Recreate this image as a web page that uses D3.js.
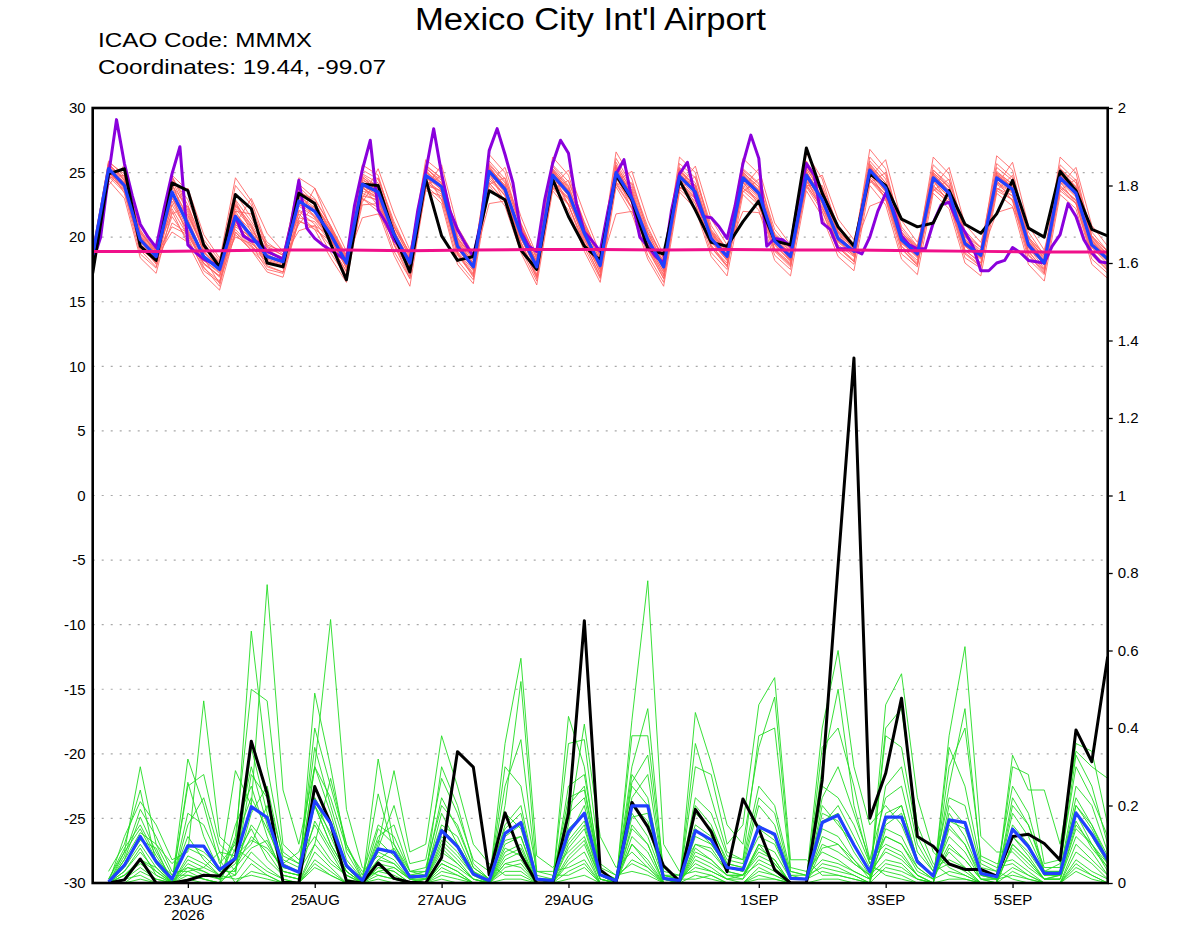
<!DOCTYPE html>
<html><head><meta charset="utf-8">
<script src="https://cdn.jsdelivr.net/npm/d3@7"></script>
<style>
body{margin:0;background:#fff}
svg{display:block}
text{font-family:"Liberation Sans",Arial,Helvetica,sans-serif;fill:#000}
</style>
</head><body>
<svg id="chart" width="1200" height="927"></svg>
<script>
// ---------------- DATA ----------------
const titleText = "Mexico City Int'l Airport";
const infoLines = ["ICAO Code: MMMX", "Coordinates: 19.44, -99.07"];
const startTime = "2026-08-21T12:00:00Z";   // first 6-hourly step
const endTime   = "2026-09-06T12:00:00Z";

// temperature, 6-hourly (65 steps), left axis
const tempControl = [17.2,
 24.9,25.3,19.3,18.2, 24.2,23.6,19.4,17.7, 23.3,22.2,18.0,17.7, 23.4,22.6,19.5,16.7,
 24.1,24.0,20.2,17.3, 24.5,20.1,18.2,18.5, 23.6,22.9,19.0,17.5, 24.5,21.6,19.3,18.2,
 24.8,22.9,19.1,18.7, 24.4,22.1,19.6,19.3, 21.2,22.8,19.7,19.4, 26.9,23.4,20.8,19.3,
 24.9,24.0,21.4,20.8, 21.1,23.6,21.0,20.3, 21.8,24.4,20.7,20.0, 25.1,23.6,20.6,20.1];
const tempMean = [18.6,
 25.3,24.0,19.8,18.5, 23.5,21.0,18.5,17.5, 21.6,20.1,18.5,18.1, 22.8,22.0,20.2,18.0,
 24.1,23.5,20.2,18.0, 24.8,23.9,19.3,17.7, 25.1,23.7,20.2,17.7, 24.8,23.4,20.3,17.8,
 25.0,23.0,19.8,17.7, 24.7,23.5,19.9,18.5, 24.6,23.4,19.7,18.5, 24.8,22.9,19.9,18.9,
 25.2,23.8,19.8,18.7, 24.6,23.4,19.5,18.6, 24.6,23.7,19.4,18.0, 24.6,23.4,19.4,18.3];
// high-resolution model, 3-hourly (129 steps)
const tempHiRes = [18.1,20.0,24.8,29.1,25.7,23.2,21.0,20.0,19.2,22.2,24.9,27.0,19.4,18.8,18.3,18.0,
 17.8,19.8,21.6,20.1,19.7,19.6,18.9,18.6,18.3,21.0,24.4,20.7,19.9,19.4,19.0,18.6,
 18.2,22.4,25.2,27.5,22.1,21.1,19.8,19.0,18.1,22.1,25.1,28.4,24.9,22.1,20.6,19.5,
 18.5,21.3,26.7,28.4,26.4,24.2,20.4,19.3,18.9,22.9,25.7,27.5,26.5,22.6,20.4,19.7,
 18.9,22.1,24.9,26.0,22.9,20.0,19.3,18.5,18.0,22.1,24.9,25.8,23.1,21.6,21.5,20.8,
 19.9,22.4,25.7,27.9,26.1,19.3,19.9,19.8,19.3,22.9,25.7,24.8,21.1,20.6,19.1,19.1,
 19.0,18.7,20.0,22.0,23.4,22.1,20.1,19.4,19.1,19.1,21.1,22.5,22.7,21.3,20.4,19.3,
 17.4,17.4,18.0,18.2,19.2,18.8,18.2,18.1,18.0,19.3,20.2,22.6,21.6,19.8,18.8,18.1,18.0];
// reference line, daily (17 values, every 4th step)
const tempReference = [18.9,18.9,18.95,19.0,19.0,18.95,19.0,19.05,19.05,19.0,19.05,19.0,19.0,18.95,18.9,18.85,18.85];
// ensemble members, 6-hourly
const tempMembers = [
 [18.9, 25.1,24.2,19.6,18.2, 24.0,22.3,18.9,17.6, 22.4,20.8,18.7,18.0, 23.4,22.5,20.8,18.2, 24.6,23.9,20.6,17.8, 25.3,24.4,19.6,17.5, 25.6,24.2,20.9,17.9, 25.3,23.9,20.7,17.6, 25.5,23.6,20.1,17.5, 25.1,24.0,20.3,18.6, 25.0,23.9,19.9,18.2, 25.3,23.4,20.3,18.8, 25.6,24.2,20.1,18.5, 25.0,23.8,19.7,18.4, 25.0,24.1,19.6,17.8, 25.0,23.9,19.8,18.1],
 [18.6, 25.5,24.4,20.1,18.7, 22.8,20.4,18.0,17.0, 21.0,19.6,18.2,17.8, 22.1,21.4,19.8,17.6, 23.6,23.0,19.7,17.4, 24.3,23.3,18.8,17.2, 24.6,23.2,19.6,17.1, 24.2,22.9,19.8,17.3, 24.6,22.6,19.3,17.1, 24.2,23.0,19.3,18.0, 24.0,22.8,19.1,18.0, 24.3,22.4,19.4,18.5, 24.7,23.3,19.3,18.2, 24.0,22.9,19.0,18.0, 24.1,23.2,18.9,17.5, 24.0,22.8,18.9,17.7],
 [19.0, 25.6,24.6,20.3,18.9, 24.5,22.9,19.8,18.2, 24.6,22.8,19.3,18.6, 24.1,23.0,20.9,18.6, 25.2,24.5,21.0,18.7, 25.5,24.6,20.0,18.3, 25.9,24.5,21.0,18.4, 25.6,24.3,21.1,18.5, 26.1,24.0,20.6,18.4, 25.7,24.6,20.6,19.1, 25.3,24.2,20.2,19.0, 25.9,23.8,20.6,19.4, 26.2,24.8,20.6,19.2, 25.6,24.4,20.3,19.2, 25.7,24.6,20.0,18.6, 25.6,24.4,20.1,18.9],
 [18.4, 24.9,23.6,19.2,18.0, 21.6,19.8,17.6,16.6, 20.2,19.0,17.8,17.3, 21.2,20.8,19.3,17.4, 22.5,22.6,19.5,17.0, 23.6,23.2,18.6,17.0, 24.2,22.8,19.4,16.9, 23.8,22.5,19.5,17.0, 24.1,22.2,19.1,16.8, 23.7,22.6,19.2,17.8, 23.6,22.5,18.9,17.7, 23.9,22.0,19.2,18.1, 24.4,23.0,19.1,17.8, 23.7,22.7,18.7,17.7, 23.6,22.9,18.6,17.2, 23.6,22.6,18.6,17.4],
 [18.7, 25.2,23.8,20.6,18.6, 23.8,21.7,19.3,17.8, 21.8,20.5,19.0,18.3, 23.0,22.2,20.4,18.3, 24.0,23.2,20.4,18.3, 24.9,23.6,19.5,17.9, 25.0,23.4,20.3,17.8, 24.6,23.2,20.6,18.0, 25.3,23.1,20.0,17.9, 24.8,23.3,20.0,18.6, 24.4,23.1,19.8,18.7, 24.7,22.6,20.0,19.0, 25.1,23.6,19.9,18.8, 24.4,23.1,19.7,18.7, 24.3,23.5,19.6,18.2, 24.5,23.2,19.6,18.4],
 [18.5, 25.0,24.1,19.4,18.3, 23.1,20.6,18.2,17.3, 22.6,20.9,18.3,17.9, 22.6,21.7,20.0,17.8, 24.3,23.4,20.0,17.7, 24.6,23.7,19.1,17.6, 25.2,23.7,20.0,17.5, 24.9,23.6,20.1,17.7, 24.8,22.8,19.6,17.6, 24.6,23.4,19.7,18.3, 24.7,23.6,19.5,18.4, 24.9,23.0,19.7,18.7, 25.0,23.6,19.6,18.6, 24.6,23.4,19.4,18.4, 24.7,23.6,19.2,17.9, 24.4,23.3,19.3,18.2],
 [18.8, 25.4,24.0,20.0,18.5, 24.7,22.1,18.8,17.6, 20.0,19.5,18.6,18.1, 22.9,22.0,20.6,18.1, 24.0,23.3,20.5,18.2, 24.9,24.0,19.4,17.8, 25.2,23.9,20.2,17.6, 25.0,23.5,20.4,17.9, 25.1,23.3,19.9,17.8, 24.9,23.6,20.1,18.6, 24.6,23.3,19.7,18.5, 24.6,23.0,20.0,19.0, 25.2,23.9,20.0,18.7, 24.7,23.5,19.6,18.6, 24.7,23.8,19.5,18.1, 24.7,23.5,19.5,18.4],
 [18.9, 25.7,24.4,19.9,18.4, 20.4,19.6,18.0,16.9, 21.3,20.3,18.9,18.4, 20.5,20.9,20.1,17.9, 23.8,23.1,20.2,18.0, 24.6,23.9,19.3,17.9, 25.0,23.5,20.0,17.7, 24.8,23.3,20.2,17.8, 25.0,23.0,19.8,17.6, 24.5,23.2,19.8,18.5, 24.3,23.2,19.6,18.3, 24.6,22.8,19.8,18.8, 25.2,23.8,19.7,18.6, 24.6,23.2,19.4,18.5, 24.5,23.5,19.3,18.0, 24.6,23.3,19.3,18.3],
 [18.6, 25.3,23.9,19.1,18.1, 23.6,21.2,18.4,16.4, 22.0,20.1,18.1,17.6, 23.2,22.3,19.5,17.3, 24.5,23.6,19.4,17.5, 25.4,24.2,18.7,17.1, 25.5,23.8,19.6,17.0, 25.2,23.6,19.9,17.2, 25.4,23.3,19.2,17.0, 25.2,23.7,19.4,17.8, 25.1,23.6,19.0,17.9, 25.1,22.9,19.3,18.2, 25.5,24.0,19.3,18.0, 24.9,23.6,19.0,18.0, 25.0,23.9,18.9,17.4, 25.0,23.6,18.9,17.6],
 [18.3, 24.8,23.7,20.3,19.0, 23.3,21.6,19.1,18.1, 22.9,21.2,19.4,18.9, 21.8,20.6,19.7,18.7, 23.0,22.3,20.8,18.8, 24.0,22.9,19.9,18.5, 24.2,22.7,20.8,18.5, 23.9,22.6,20.9,18.6, 24.2,22.3,20.4,18.4, 23.9,22.8,20.5,19.1, 23.8,22.7,20.3,19.1, 24.1,22.2,20.4,19.4, 24.5,23.1,20.3,19.3, 23.8,22.6,20.1,19.2, 23.8,22.9,20.0,18.7, 23.8,22.6,20.0,18.9],
 [19.1, 25.6,24.5,19.8,18.8, 24.2,20.9,18.4,17.9, 20.6,19.3,18.4,18.0, 23.6,22.7,20.3,17.9, 24.8,23.9,19.9,17.9, 25.4,24.1,19.1,17.6, 25.4,24.0,19.9,17.5, 25.3,23.8,20.1,17.5, 25.6,23.6,19.5,17.3, 25.1,24.0,19.7,18.2, 25.0,23.9,19.4,18.1, 25.3,23.5,19.7,18.6, 25.7,24.2,19.6,18.4, 25.0,23.9,19.3,18.3, 25.1,24.1,19.2,17.6, 25.0,23.9,19.2,17.9],
 [18.4, 25.1,24.2,19.4,17.9, 22.5,20.5,17.9,17.0, 21.6,19.7,18.0,17.7, 22.4,21.6,19.9,17.6, 23.4,22.8,19.9,17.6, 24.2,23.5,18.9,17.4, 24.8,23.2,19.9,17.4, 24.4,23.0,20.0,17.5, 24.6,22.9,19.4,17.3, 24.3,23.1,19.6,18.2, 24.2,23.0,19.4,18.2, 24.4,22.6,19.6,18.6, 24.9,23.5,19.5,18.5, 24.3,23.1,19.3,18.4, 24.2,23.4,19.2,17.9, 24.3,23.1,19.2,18.1],
 [18.8, 25.9,24.7,20.5,19.0, 23.0,21.3,18.6,17.5, 20.8,20.0,18.8,18.3, 22.5,22.1,20.4,18.1, 24.2,23.7,20.3,18.1, 25.0,24.2,19.6,17.9, 25.3,24.0,20.4,17.9, 25.0,23.6,20.5,17.9, 25.2,23.2,20.1,17.9, 24.9,23.6,20.2,18.7, 24.8,23.5,19.9,18.6, 25.0,23.1,20.1,19.0, 25.4,23.9,20.0,18.9, 24.7,23.5,19.8,18.8, 24.8,23.9,19.7,18.2, 24.8,23.5,19.7,18.5],
 [18.5, 24.7,23.5,19.3,18.4, 24.4,21.9,18.9,17.7, 23.4,21.5,19.2,18.6, 23.5,22.9,20.9,18.4, 24.9,24.2,20.8,18.5, 25.6,24.5,19.9,18.2, 25.7,24.3,20.7,18.1, 25.5,24.0,20.8,18.2, 25.8,23.8,20.3,18.1, 25.4,24.2,20.4,19.0, 25.2,24.1,20.1,18.9, 25.5,23.7,20.4,19.3, 25.9,24.5,20.4,19.1, 25.2,24.1,20.0,19.0, 25.4,24.4,19.9,18.4, 25.3,24.2,19.9,18.7],
 [18.7, 25.4,24.1,20.2,18.8, 22.2,20.1,18.2,17.2, 20.4,19.2,18.1,17.8, 22.9,21.9,19.8,17.7, 23.8,23.0,20.1,17.8, 24.4,23.5,19.2,17.5, 25.0,23.6,20.1,17.6, 24.7,23.4,20.2,17.6, 24.9,22.9,19.7,17.5, 24.6,23.4,19.8,18.4, 24.5,23.3,19.6,18.3, 24.8,22.8,19.9,18.8, 25.2,23.8,19.8,18.6, 24.5,23.3,19.5,18.5, 24.6,23.7,19.4,18.0, 24.5,23.4,19.4,18.2],
 [18.6, 25.2,24.3,19.7,18.2, 24.7,22.5,19.2,17.9, 22.2,20.7,18.6,18.2, 23.9,22.7,20.5,18.0, 24.4,23.8,20.3,18.1, 25.1,23.8,19.3,17.7, 25.3,23.9,20.3,17.7, 25.1,23.7,20.3,17.8, 25.3,23.4,19.9,17.7, 24.9,23.8,20.0,18.6, 24.8,23.7,19.8,18.6, 25.0,23.2,20.0,19.0, 25.4,24.0,20.0,18.8, 24.8,23.6,19.7,18.7, 24.8,23.9,19.6,18.1, 24.8,23.6,19.6,18.4],
 [18.9, 25.0,24.0,19.0,17.7, 21.1,20.3,17.7,16.2, 21.0,19.9,17.7,17.3, 21.5,21.2,19.6,17.0, 23.2,22.9,19.4,16.8, 24.0,23.6,18.8,16.9, 24.4,23.3,19.5,16.8, 24.0,23.1,19.6,16.9, 24.3,22.7,19.0,16.8, 23.9,23.0,19.2,17.7, 23.8,22.9,19.0,17.8, 24.0,22.3,19.2,18.1, 24.5,23.3,19.1,17.9, 23.9,22.9,18.8,17.8, 23.8,23.2,18.7,17.3, 23.9,22.9,18.7,17.5],
 [18.5, 25.5,24.2,20.0,18.6, 24.1,21.4,18.6,17.4, 22.8,20.4,18.5,18.1, 23.3,22.0,20.2,18.1, 24.7,23.5,20.1,18.0, 25.2,23.9,19.4,17.8, 25.4,23.8,20.3,17.8, 25.2,23.5,20.4,17.9, 25.4,23.2,19.9,17.8, 25.0,23.6,20.0,18.6, 24.9,23.5,19.7,18.6, 25.1,23.0,20.0,19.0, 25.5,23.9,19.9,18.8, 24.9,23.5,19.6,18.7, 24.9,23.8,19.5,18.1, 24.9,23.5,19.5,18.4],
 [18.7, 24.6,24.8,20.4,18.9, 21.8,22.4,19.5,18.0, 22.0,21.8,19.6,18.7, 21.0,22.5,20.6,18.5, 22.7,24.6,21.2,18.6, 23.9,24.8,20.2,18.4, 24.1,24.6,21.1,18.3, 23.7,24.4,21.2,18.4, 24.1,24.2,20.8,18.3, 23.7,24.7,20.9,19.0, 23.5,24.5,20.6,19.1, 24.0,24.0,20.9,19.5, 24.2,25.0,20.8,19.3, 23.6,24.5,20.5,19.2, 23.6,24.8,20.4,18.6, 23.6,24.5,20.4,18.9],
 [18.3, 25.3,23.4,18.7,17.6, 23.2,20.0,17.4,16.5, 21.2,19.4,17.5,17.2, 22.0,21.0,18.8,16.9, 24.0,22.4,18.9,16.8, 24.8,22.9,18.2,16.7, 25.0,22.7,19.1,16.6, 24.6,22.5,19.2,16.8, 24.8,22.2,18.6,16.5, 24.5,22.6,18.8,17.5, 24.3,22.5,18.6,17.5, 24.6,22.0,18.9,17.9, 25.0,22.9,18.7,17.7, 24.4,22.6,18.4,17.6, 24.4,22.8,18.3,17.1, 24.3,22.6,18.3,17.2],
 [18.8, 24.0,25.6,21.0,19.2, 22.5,23.8,20.2,18.4, 21.0,23.0,20.3,18.9, 21.5,23.8,21.5,18.9, 23.0,25.3,21.8,19.0, 23.8,25.6,20.8,18.7, 24.2,25.4,21.6,18.6, 23.9,25.2,21.8,18.7, 24.3,25.1,21.3,18.6, 24.0,25.5,21.4,19.4, 23.8,25.3,21.1,19.4, 24.2,24.8,21.4,19.8, 24.6,26.0,21.3,19.6, 23.9,25.4,21.0,19.6, 24.0,25.8,20.9,19.0, 24.0,25.4,20.9,19.3],
 [18.2, 24.4,23.0,18.4,17.2, 22.0,19.5,17.1,15.9, 20.4,19.0,17.3,16.9, 21.3,20.6,18.4,16.5, 23.0,22.0,18.6,16.2, 23.8,22.6,17.9,16.4, 24.0,22.4,18.8,16.3, 23.6,22.1,18.9,16.5, 23.9,21.8,18.3,16.2, 23.5,22.2,18.5,17.0, 23.3,22.1,18.2,17.0, 23.6,21.6,18.5,17.4, 24.0,22.5,18.3,17.1, 23.4,22.2,18.0,17.0, 23.4,22.4,17.9,16.6, 23.3,22.2,17.9,16.8],
 [18.9, 25.8,24.9,20.1,18.5, 24.8,23.6,19.6,17.8, 24.0,22.5,19.0,18.2, 24.6,23.8,20.7,18.3, 25.6,24.8,20.8,18.4, 26.0,25.0,19.8,18.0, 26.4,25.0,20.8,18.0, 26.2,24.8,20.9,18.2, 26.6,24.5,20.3,18.0, 26.2,25.0,20.4,18.8, 26.1,24.9,20.1,18.7, 26.5,24.5,20.5,19.1, 26.8,25.3,20.4,18.9, 26.2,24.9,20.1,18.8, 26.3,25.2,19.9,18.3, 26.2,25.0,20.0,18.6],
 [18.6, 25.0,23.8,19.9,18.6, 20.8,20.2,18.6,17.6, 22.5,21.0,19.0,18.4, 23.2,21.5,19.9,18.2, 21.5,21.8,19.8,18.4, 25.1,24.0,19.7,18.0, 22.6,22.8,20.1,18.2, 25.0,22.5,19.5,17.7, 21.8,22.0,19.6,18.2, 25.3,23.9,20.3,18.9, 22.0,21.9,19.8,18.8, 25.5,23.5,20.3,19.1, 22.4,22.9,20.2,19.1, 25.2,23.9,19.9,18.6, 21.9,22.3,19.7,18.5, 25.3,23.9,19.8,18.6]
];

// precipitation, 6-hourly accumulations from step 1 to step 64, right axis
const precipControl = [0,.008,.062,0,0,.007,.02,.018,.064,.366,.231,.002,0,.249,.154,.005,
 0,.052,.012,.002,0,.066,.339,.299,.021,.181,.072,0,0,.178,.677,.034,
 .002,.208,.145,.044,.005,.19,.132,.029,.217,.139,.034,0,0,.266,.82,1.355,
 .167,.283,.477,.12,.095,.049,.035,.035,.018,.12,.126,.102,.059,.395,.313,.584];
const precipMean = [.003,.046,.12,.055,.01,.096,.095,.034,.064,.197,.169,.045,.028,.212,.154,.045,
 .006,.088,.079,.016,.018,.135,.094,.023,.006,.128,.156,.01,.006,.132,.18,.021,
 .006,.199,.199,.012,.006,.135,.111,.04,.034,.145,.126,.012,.01,.156,.175,.098,
 .029,.17,.17,.055,.018,.163,.156,.025,.016,.139,.094,.025,.025,.181,.126,.059];
// ensemble members, one row per time step (20 members each)
const precipMembersByStep = [
[0,0,.01,0,0,0,0,.03,0,0,0,0,0,.01,0,0,0,0,0,0],
[.05,.02,.08,.12,.03,0,.06,.1,.01,.04,.07,.02,0,.09,.05,.03,.01,.08,.06,.02],
[.12,.05,.3,.21,.08,.03,.17,.24,.02,.1,.19,.06,.01,.15,.11,.09,.04,.14,.13,.06],
[.06,.02,.1,.15,.03,.01,.08,.05,0,.04,.12,.03,0,.07,.09,.02,.01,.06,.1,.04],
[0,0,.02,.06,0,0,.01,0,0,0,.03,0,0,.01,0,0,0,.02,.05,0],
[.05,.32,.02,.08,.26,.01,.12,.04,.25,.06,.03,.15,0,.1,.07,.02,.18,.04,.09,.03],
[.03,.2,.01,.47,.12,0,.06,.02,.28,.04,.01,.22,0,.08,.05,.01,.15,.03,.07,.04],
[.01,.05,0,.12,.03,0,.02,.01,.1,.02,0,.08,0,.04,.02,0,.06,.01,.03,.08],
[.02,.1,.04,.08,.29,0,.05,.12,.06,.01,.15,.03,.09,.02,.07,.04,0,.11,.03,.07],
[.08,.3,.12,.65,.2,.05,.15,.5,.1,.02,.25,.18,.06,.35,.14,.09,.03,.22,.28,.11],
[.04,.15,.08,.3,.77,.02,.1,.47,.2,.01,.12,.25,.03,.18,.06,.11,.02,.14,.22,.09],
[.01,.03,.02,.08,.24,0,.03,.1,.05,0,.02,.06,.01,.04,.02,.03,0,.05,.07,.04],
[0,.02,.01,.05,.1,0,.02,.06,.03,0,.01,.04,0,.03,.01,.02,0,.08,.05,.03],
[.1,.2,.49,.15,.3,.05,.3,.12,.4,.08,.22,.35,.04,.22,.16,.3,.06,.2,.2,.1],
[.05,.1,.3,.08,.68,.02,.18,.06,.25,.04,.12,.2,.02,.15,.09,.22,.03,.13,.1,.27],
[.02,.03,.08,.01,.19,0,.04,.02,.1,0,.03,.06,0,.05,.02,.09,0,.04,.03,.1],
[0,0,.01,0,.04,0,0,0,.02,0,0,.01,0,0,0,.03,0,0,0,.01],
[.04,.12,.06,.32,.02,.1,.08,.03,.15,.01,.23,.05,.09,.02,.11,.07,.14,.04,.06,.03],
[.03,.15,.05,.1,.01,.29,.06,.02,.12,0,.08,.04,.2,.01,.07,.05,.1,.03,.09,.04],
[0,.03,.01,.02,0,.08,.01,0,.03,0,.02,.01,.05,0,.02,.01,.03,0,.02,.01],
[.01,.02,0,.03,0,.1,.02,.01,.04,0,.01,0,.06,0,.02,.01,.03,0,.02,.01],
[.08,.3,.05,.15,.02,.38,.12,.06,.2,.01,.1,.04,.27,.03,.18,.09,.22,.05,.14,.11],
[.05,.2,.03,.12,.01,.25,.08,.04,.15,0,.06,.02,.18,.02,.1,.05,.14,.03,.1,.07],
[.01,.05,0,.03,0,.1,.02,.01,.04,0,.01,0,.06,0,.03,.01,.04,0,.03,.02],
[0,.01,0,0,0,.05,0,0,.01,0,0,0,.03,0,0,0,.01,0,.01,0],
[.05,.15,.1,.06,.36,.02,.2,.08,.12,.01,.25,.04,.14,.03,.3,.07,.18,.05,.11,.09],
[.06,.2,.12,.08,.58,.02,.52,.1,.15,.01,.37,.05,.18,.03,.25,.09,.14,.04,.12,.07],
[0,.01,0,0,.07,0,.03,0,.01,0,.02,0,.01,0,.03,0,.01,0,.01,0],
[0,0,0,0,.04,0,.02,0,0,0,.01,0,0,0,.03,0,.01,0,.01,0],
[.1,.05,.2,.43,.08,.15,.02,.36,.12,.06,.18,.01,.25,.09,.04,.14,.11,.03,.22,.07],
[.15,.08,.25,.3,.12,.41,.04,.37,.2,.1,.22,.02,.28,.14,.06,.18,.16,.05,.24,.11],
[.01,0,.03,.02,.01,.12,0,.05,.02,0,.03,0,.04,.01,0,.02,.02,0,.03,.01],
[0,0,.01,0,0,.04,0,.02,0,0,.01,0,.02,0,0,0,.01,0,.01,0],
[.2,.1,.3,.15,.42,.08,.25,.05,.38,.12,.18,.22,.03,.28,.14,.2,.1,.26,.06,.17],
[.15,.06,.45,.1,.78,.04,.2,.03,.38,.08,.12,.28,.02,.22,.1,.16,.05,.33,.04,.18],
[.01,0,.02,0,.1,0,.01,0,.03,0,.01,.02,0,.02,0,.01,0,.02,0,0],
[0,0,.01,0,.03,0,0,0,.02,0,0,.01,0,.01,0,0,0,.02,0,0],
[.08,.2,.04,.44,.1,.12,.3,.02,.15,.06,.36,.05,.18,.01,.1,.09,.22,.03,.14,.07],
[.06,.15,.03,.31,.08,.1,.28,.01,.12,.04,.22,.03,.14,.02,.09,.06,.18,.02,.1,.05],
[.02,.05,.01,.15,.03,.04,.1,0,.05,.01,.08,.01,.06,0,.03,.02,.07,0,.04,.02],
[.01,.04,.02,.1,.02,.03,.15,0,.04,.01,.06,0,.05,0,.02,.02,.06,0,.03,.02],
[.1,.2,.05,.35,.08,.15,.46,.03,.12,.06,.38,.02,.22,.04,.1,.09,.25,.01,.14,.07],
[.05,.15,.03,.48,.06,.12,.53,.02,.1,.04,.4,.01,.18,.02,.08,.06,.2,.01,.11,.05],
[0,.02,0,.04,0,.01,.06,0,.01,0,.03,0,.02,0,.01,0,.03,0,.01,0],
[0,.01,0,.03,0,.01,.06,0,.01,0,.02,0,.02,0,.01,0,.02,0,.01,0],
[.12,.05,.3,.08,.2,.4,.02,.15,.1,.35,.04,.18,.06,.25,.03,.14,.22,.01,.16,.09],
[.1,.04,.5,.06,.15,.6,.02,.2,.08,.4,.03,.16,.05,.22,.02,.12,.3,.01,.18,.1],
[.06,.02,.2,.03,.1,.3,.01,.12,.05,.25,.02,.08,.03,.15,.01,.06,.18,0,.1,.05],
[.01,0,.05,.01,.03,.15,0,.04,.02,.06,0,.02,.01,.05,0,.02,.06,0,.03,.02],
[.05,.18,.12,.46,.08,.2,.4,.03,.15,.1,.25,.06,.38,.02,.14,.09,.22,.04,.16,.12],
[.04,.2,.1,.54,.06,.15,.45,.02,.18,.08,.3,.05,.35,.01,.12,.07,.25,.03,.2,.1],
[.01,.06,.03,.22,.02,.05,.15,0,.06,.02,.1,.01,.12,0,.04,.02,.08,.01,.06,.04],
[0,.02,.01,.08,0,.02,.05,0,.02,0,.03,0,.04,0,.01,0,.03,0,.02,.01],
[.15,.08,.25,.04,.38,.1,.02,.2,.12,.3,.05,.18,.06,.35,.03,.14,.22,.01,.16,.09],
[.1,.04,.45,.02,.61,.06,.01,.15,.08,.4,.03,.12,.04,.25,.02,.1,.2,.01,.14,.06],
[.01,0,.06,0,.12,.01,0,.02,.01,.07,0,.02,0,.05,0,.02,.04,0,.03,.01],
[0,0,.04,0,.08,0,0,.01,.01,.05,0,.01,0,.03,0,.01,.03,0,.02,.01],
[.1,.2,.05,.3,.08,.15,.33,.02,.12,.06,.22,.04,.18,.01,.1,.09,.25,.03,.14,.12],
[.06,.15,.02,.28,.04,.1,.24,.01,.08,.03,.15,.02,.12,0,.06,.05,.18,.01,.1,.07],
[.01,.03,0,.05,.01,.02,.24,0,.02,0,.04,0,.03,0,.01,.01,.03,0,.02,.01],
[.01,.03,0,.06,.01,.02,.1,0,.02,0,.04,0,.03,0,.01,.02,.05,0,.03,.02],
[.15,.25,.08,.36,.12,.2,.34,.05,.18,.1,.33,.06,.22,.04,.14,.16,.3,.03,.2,.18],
[.1,.2,.05,.34,.08,.15,.3,.02,.12,.06,.25,.03,.15,.02,.1,.09,.22,.01,.14,.1],
[.04,.08,.01,.15,.02,.06,.27,0,.05,.02,.1,.01,.07,0,.03,.04,.12,0,.06,.05]
];

// axes
const leftTickValues = [-30,-25,-20,-15,-10,-5,0,5,10,15,20,25,30];
const rightTickValues = [0,0.2,0.4,0.6,0.8,1,1.2,1.4,1.6,1.8,2];
const rightTickLabels = ["0","0.2","0.4","0.6","0.8","1","1.2","1.4","1.6","1.8","2"];
const dateTickValues = ["2026-08-23","2026-08-25","2026-08-27","2026-08-29","2026-09-01","2026-09-03","2026-09-05"];
const dateTickLabels = ["23AUG","25AUG","27AUG","29AUG","1SEP","3SEP","5SEP"];
const yearLabel = "2026";

// ---------------- DRAWING ----------------
const svg = d3.select("#chart");
const M = {left: 92.7, right: 1107.7, top: 108, bottom: 883};
const t0 = new Date(startTime);
const H6 = 6 * 3600 * 1000, H3 = 3 * 3600 * 1000;

const x = d3.scaleUtc().domain([t0, new Date(endTime)]).range([M.left, M.right]);
const yT = d3.scaleLinear().domain([-30, 30]).range([M.bottom, M.top]);
const yP = d3.scaleLinear().domain([0, 2]).range([M.bottom, M.top]);

svg.append("defs").append("clipPath").attr("id", "clip")
  .append("rect").attr("x", M.left).attr("y", M.top - 1)
  .attr("width", M.right - M.left).attr("height", M.bottom - M.top + 1);

// dotted grid lines at left-axis ticks
svg.append("g").selectAll("line")
  .data(leftTickValues.filter(v => v > -30 && v < 30))
  .join("line")
  .attr("x1", M.left).attr("x2", M.right)
  .attr("y1", d => yT(d)).attr("y2", d => yT(d))
  .attr("stroke", "#a8a8a8").attr("stroke-width", 1.2)
  .attr("stroke-dasharray", "2,7");

const plot = svg.append("g").attr("clip-path", "url(#clip)");

const line6T = d3.line().x((d, i) => x(new Date(+t0 + i * H6))).y(d => yT(d));
const line3T = d3.line().x((d, i) => x(new Date(+t0 + i * H3))).y(d => yT(d));
const line24T = d3.line().x((d, i) => x(new Date(+t0 + i * 4 * H6))).y(d => yT(d));
const line6P = d3.line().x((d, i) => x(new Date(+t0 + (i + 1) * H6))).y(d => yP(d));

// precipitation ensemble members (transpose step rows into member lines)
const nPM = precipMembersByStep[0].length;
const precipMembers = d3.range(nPM).map(m => precipMembersByStep.map(step => step[m]));
plot.append("g").selectAll("path").data(precipMembers).join("path")
  .attr("d", line6P).attr("fill", "none")
  .attr("stroke", "#22dd22").attr("stroke-width", 0.9);

// temperature ensemble members
plot.append("g").selectAll("path").data(tempMembers).join("path")
  .attr("d", line6T).attr("fill", "none")
  .attr("stroke", "#ff6060").attr("stroke-width", 0.85);

// precipitation control and mean
plot.append("path").datum(precipControl).attr("d", line6P)
  .attr("fill", "none").attr("stroke", "#000").attr("stroke-width", 3).attr("stroke-linejoin", "round");
plot.append("path").datum(precipMean).attr("d", line6P)
  .attr("fill", "none").attr("stroke", "#2040ff").attr("stroke-width", 3.2).attr("stroke-linejoin", "round");

// temperature hi-res, control, mean, reference
plot.append("path").datum(tempHiRes).attr("d", line3T)
  .attr("fill", "none").attr("stroke", "#8a00dc").attr("stroke-width", 3).attr("stroke-linejoin", "round");
plot.append("path").datum(tempControl).attr("d", line6T)
  .attr("fill", "none").attr("stroke", "#000").attr("stroke-width", 3).attr("stroke-linejoin", "round");
plot.append("path").datum(tempMean).attr("d", line6T)
  .attr("fill", "none").attr("stroke", "#2040ff").attr("stroke-width", 3.2).attr("stroke-linejoin", "round");
plot.append("path").datum(tempReference).attr("d", line24T)
  .attr("fill", "none").attr("stroke", "#f0108a").attr("stroke-width", 3);

// frame
svg.append("rect").attr("x", M.left).attr("y", M.top)
  .attr("width", M.right - M.left).attr("height", M.bottom - M.top)
  .attr("fill", "none").attr("stroke", "#000").attr("stroke-width", 2.6);

// left axis
const axL = svg.append("g").attr("transform", `translate(${M.left},0)`)
  .call(d3.axisLeft(yT).tickValues(leftTickValues).tickSize(0).tickPadding(7).tickFormat(d => String(d)));
axL.select(".domain").remove();
axL.selectAll("text").attr("font-size", 15).attr("font-family", "Liberation Sans, Arial, sans-serif");

// right axis
const axR = svg.append("g").attr("transform", `translate(${M.right},0)`)
  .call(d3.axisRight(yP).tickValues(rightTickValues).tickSize(5).tickPadding(5)
    .tickFormat((d, i) => rightTickLabels[i]));
axR.select(".domain").remove();
axR.selectAll("line").attr("stroke-width", 1.3);
axR.selectAll("text").attr("font-size", 15).attr("font-family", "Liberation Sans, Arial, sans-serif");

// bottom axis
const dateVals = dateTickValues.map(s => new Date(s + "T00:00:00Z"));
const axB = svg.append("g").attr("transform", `translate(0,${M.bottom})`)
  .call(d3.axisBottom(x).tickValues(dateVals).tickSize(5).tickPadding(6)
    .tickFormat((d, i) => dateTickLabels[i]));
axB.select(".domain").remove();
axB.selectAll("line").attr("stroke-width", 1.3);
axB.selectAll("text").attr("font-size", 15).attr("font-family", "Liberation Sans, Arial, sans-serif");
svg.append("text").attr("x", x(dateVals[0])).attr("y", 920)
  .attr("text-anchor", "middle").attr("font-size", 15).text(yearLabel);

// titles
svg.append("text").attr("x", 590.5).attr("y", 30).attr("text-anchor", "middle")
  .attr("font-size", 31).attr("textLength", 351).attr("lengthAdjust", "spacingAndGlyphs").text(titleText);
svg.append("text").attr("x", 98).attr("y", 47).attr("font-size", 21)
  .attr("textLength", 214).attr("lengthAdjust", "spacingAndGlyphs").text(infoLines[0]);
svg.append("text").attr("x", 98).attr("y", 74).attr("font-size", 21)
  .attr("textLength", 288).attr("lengthAdjust", "spacingAndGlyphs").text(infoLines[1]);
</script>
</body></html>
